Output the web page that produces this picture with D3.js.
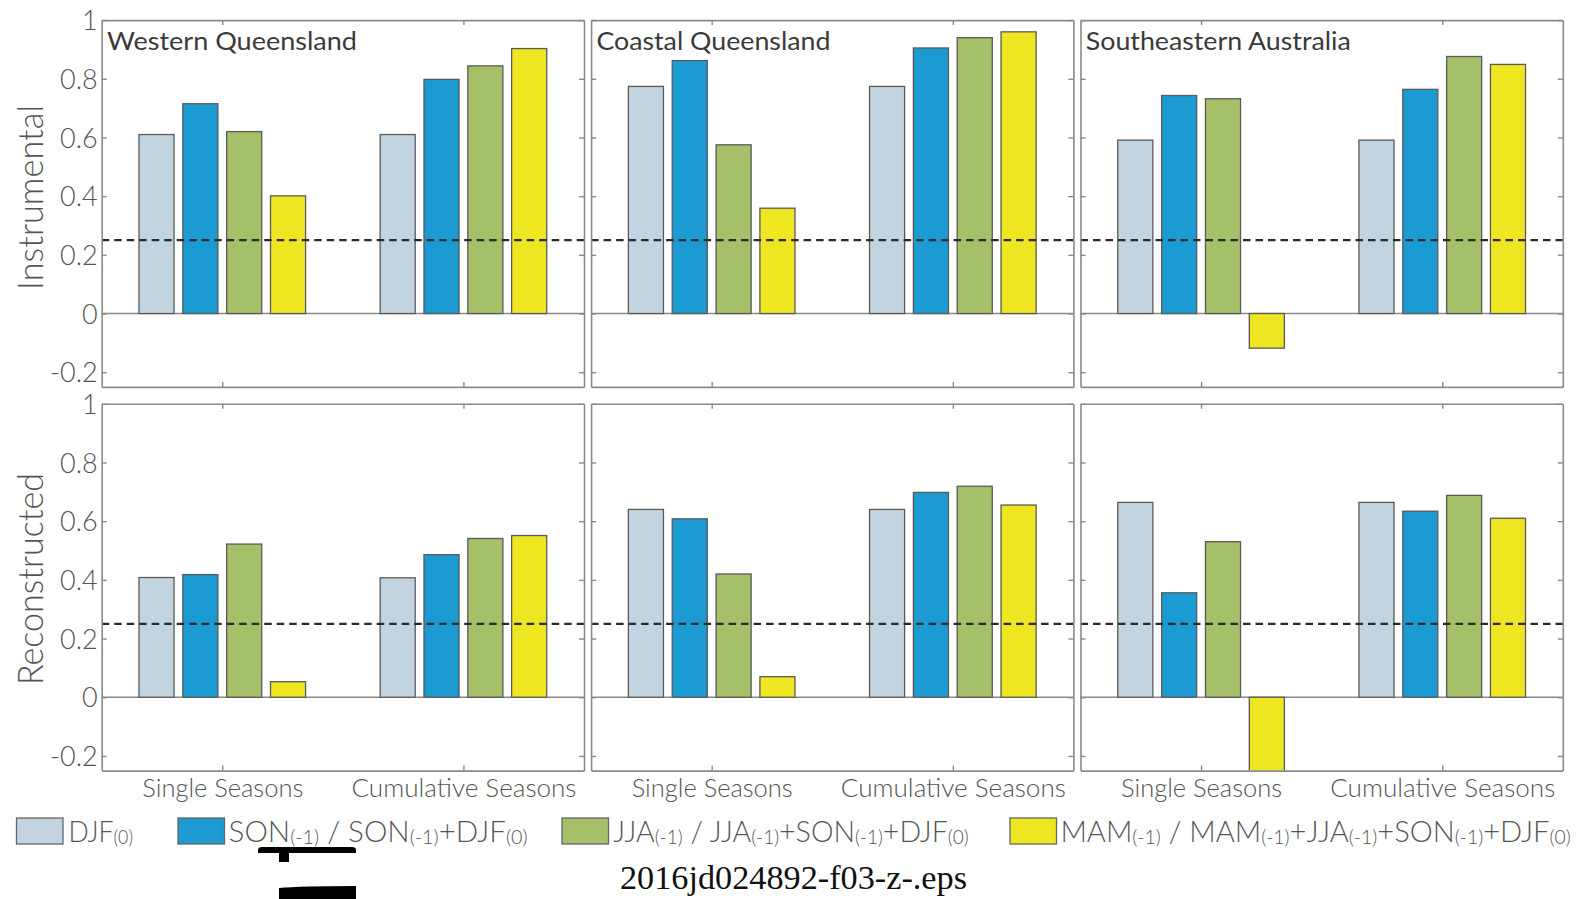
<!DOCTYPE html>
<html>
<head>
<meta charset="utf-8">
<script src="https://cdn.jsdelivr.net/npm/d3@7"></script>
<style>
  html, body { margin: 0; padding: 0; background: #fff; }
  svg { display: block; }
</style>
</head>
<body>
<svg id="chart" width="1579" height="899"></svg>
<script>
// ---------------- DATA ----------------
const regions = ["Western Queensland", "Coastal Queensland", "Southeastern Australia"];
const rowNames = ["Instrumental", "Reconstructed"];
const groups = ["Single Seasons", "Cumulative Seasons"];
const seriesKeys = ["DJF", "SON", "JJA", "MAM"];
const seriesColors = ["#c2d4df", "#1b9bd1", "#a6bf69", "#eee621"];
const yTicks = [-0.2, 0, 0.2, 0.4, 0.6, 0.8, 1];
const yTickLabels = ["-0.2", "0", "0.2", "0.4", "0.6", "0.8", "1"];
const sigLevel = 0.25;

// Instrumental row (DJF, SON, JJA, MAM)
const instWQ_single = [0.610, 0.715, 0.620, 0.401];
const instWQ_cumul  = [0.610, 0.798, 0.844, 0.903];
const instCQ_single = [0.774, 0.862, 0.575, 0.359];
const instCQ_cumul  = [0.774, 0.905, 0.940, 0.960];
const instSE_single = [0.591, 0.743, 0.732, -0.118];
const instSE_cumul  = [0.591, 0.764, 0.876, 0.849];
// Reconstructed row
const recWQ_single = [0.408, 0.418, 0.522, 0.053];
const recWQ_cumul  = [0.407, 0.486, 0.541, 0.551];
const recCQ_single = [0.640, 0.608, 0.420, 0.070];
const recCQ_cumul  = [0.640, 0.698, 0.719, 0.655];
const recSE_single = [0.664, 0.356, 0.530, -0.26];
const recSE_cumul  = [0.664, 0.634, 0.688, 0.610];

const legendParts = [
  [["DJF", 0], ["(0)", 1]],
  [["SON", 0], ["(-1)", 1], [" / SON", 0], ["(-1)", 1], ["+DJF", 0], ["(0)", 1]],
  [["JJA", 0], ["(-1)", 1], [" / JJA", 0], ["(-1)", 1], ["+SON", 0], ["(-1)", 1], ["+DJF", 0], ["(0)", 1]],
  [["MAM", 0], ["(-1)", 1], [" / MAM", 0], ["(-1)", 1], ["+JJA", 0], ["(-1)", 1], ["+SON", 0], ["(-1)", 1], ["+DJF", 0], ["(0)", 1]]
];
const fileName = "2016jd024892-f03-z-.eps";

const panelData = [
  [[instWQ_single, instWQ_cumul], [instCQ_single, instCQ_cumul], [instSE_single, instSE_cumul]],
  [[recWQ_single, recWQ_cumul], [recCQ_single, recCQ_cumul], [recSE_single, recSE_cumul]]
];

// ---------------- LAYOUT ----------------
const panelLeft = [101.7, 591.1, 1080.5];
const panelW = 482.3;
const rowTop = [20.1, 403.8];
const panelH = 366.8;
const titleWidths = [250, 234, 265];
const yLabelWidths = [185, 212];
const yLabelCenters = [197.5, 579];
const groupLabelWidths = [161, 225];
const axisColor = "#8a8a8a";
const textColor = "#555";
const sansFont = "Lato, 'Open Sans', 'DejaVu Sans', sans-serif";

const svg = d3.select("#chart");
svg.append("rect").attr("width", 1579).attr("height", 899).attr("fill", "#fff");

function fitText(sel, target) {
  sel.attr("textLength", target).attr("lengthAdjust", "spacingAndGlyphs");
}

const inner = d3.scaleBand().domain(seriesKeys).range([-0.3636, 0.3636])
  .paddingInner(0.2).paddingOuter(0.1);

const defs = svg.append("defs");

rowNames.forEach((rowName, r) => {
  const top = rowTop[r];
  const y = d3.scaleLinear().domain([-0.25, 1]).range([top + panelH, top]);

  regions.forEach((region, c) => {
    const left = panelLeft[c];
    const x = d3.scaleLinear().domain([0.5, 2.5]).range([left, left + panelW]);
    const g = svg.append("g");
    const clipId = `clip-${r}-${c}`;
    defs.append("clipPath").attr("id", clipId)
      .append("rect").attr("x", left).attr("y", top).attr("width", panelW).attr("height", panelH);

    // zero line
    g.append("line")
      .attr("x1", x(0.5)).attr("x2", x(2.5))
      .attr("y1", y(0)).attr("y2", y(0))
      .attr("stroke", axisColor).attr("stroke-width", 1.6);

    // bars
    const bars = [];
    panelData[r][c].forEach((vals, gi) => {
      vals.forEach((v, si) => bars.push({ g: gi + 1, key: seriesKeys[si], v, color: seriesColors[si] }));
    });
    g.append("g").attr("clip-path", `url(#${clipId})`)
      .selectAll("rect").data(bars).join("rect")
      .attr("x", d => x(d.g + inner(d.key)))
      .attr("width", d => x(d.g + inner(d.key) + inner.bandwidth()) - x(d.g + inner(d.key)))
      .attr("y", d => Math.min(y(d.v), y(0)))
      .attr("height", d => Math.abs(y(d.v) - y(0)))
      .attr("fill", d => d.color)
      .attr("stroke", "#5a5a5a").attr("stroke-width", 1.3);

    // significance dashed line
    g.append("line")
      .attr("x1", x(0.5)).attr("x2", x(2.5))
      .attr("y1", y(sigLevel)).attr("y2", y(sigLevel))
      .attr("stroke", "#2a2a2a").attr("stroke-width", 2.2)
      .attr("stroke-dasharray", "7.5,5");

    // axes (box)
    const axL = d3.axisLeft(y).tickValues(yTicks).tickSize(-5).tickSizeOuter(0).tickPadding(4)
      .tickFormat((d, i) => c === 0 ? yTickLabels[i] : "");
    const axR = d3.axisRight(y).tickValues(yTicks).tickSize(-5).tickSizeOuter(0).tickFormat("");
    const axT = d3.axisTop(x).tickValues([1, 2]).tickSize(-5).tickSizeOuter(0).tickFormat("");
    const axB = d3.axisBottom(x).tickValues([1, 2]).tickSize(-5).tickSizeOuter(0).tickPadding(8)
      .tickFormat((d, i) => r === 1 ? groups[i] : "");

    const gL = g.append("g").attr("transform", `translate(${left},0)`).call(axL);
    g.append("g").attr("transform", `translate(${left + panelW},0)`).call(axR);
    g.append("g").attr("transform", `translate(0,${top})`).call(axT);
    const gB = g.append("g").attr("transform", `translate(0,${top + panelH})`).call(axB);

    g.selectAll(".domain").attr("stroke", axisColor).attr("stroke-width", 1.6);
    g.selectAll(".tick line").attr("stroke", axisColor).attr("stroke-width", 1.4);
    gL.selectAll("text").attr("font-size", 27).attr("fill", textColor)
      .attr("font-family", sansFont).attr("font-weight", 300).attr("dy", "0.36em");
    gB.selectAll("text").attr("font-size", 26).attr("fill", textColor)
      .attr("font-family", sansFont).attr("font-weight", 300)
      .each(function (d, i) { if (r === 1) fitText(d3.select(this), groupLabelWidths[i]); });

    // panel title
    if (r === 0) {
      svg.append("text")
        .attr("x", left + 5.3).attr("y", 50)
        .attr("font-family", sansFont)
        .attr("font-size", 25).attr("fill", "#3a3a3a").attr("font-weight", 400)
        .text(region)
        .call(s => fitText(s, titleWidths[c]));
    }
  });

  // row label
  svg.append("text")
    .attr("transform", `translate(43,${yLabelCenters[r]}) rotate(-90)`)
    .attr("text-anchor", "middle")
    .attr("font-family", sansFont).attr("font-weight", 300)
    .attr("font-size", 35).attr("fill", textColor)
    .text(rowName)
    .call(s => fitText(s, yLabelWidths[r]));
});

// ---------------- LEGEND ----------------
const legBoxX = [16.5, 178, 562, 1010];
const legTextX = [68.5, 228.6, 613.3, 1060.4];
const legTextEnd = [133, 527.7, 968.7, 1571];
const leg = svg.append("g");
legendParts.forEach((parts, i) => {
  leg.append("rect")
    .attr("x", legBoxX[i]).attr("y", 818).attr("width", 46.5).attr("height", 26)
    .attr("fill", seriesColors[i]).attr("stroke", "#666").attr("stroke-width", 1.3);
  const tg = leg.append("g");
  const t = tg.append("text").attr("x", 0).attr("y", 0).attr("fill", textColor)
    .attr("font-family", sansFont).attr("font-weight", 300).attr("font-size", 30);
  parts.forEach(([s, sub]) => {
    t.append("tspan").attr("font-size", sub ? 20 : 30)
      .attr("baseline-shift", sub ? "-2" : null)
      .text(s);
  });
  const w = t.node().getComputedTextLength();
  const sx = (legTextEnd[i] - legTextX[i]) / w;
  tg.attr("transform", `translate(${legTextX[i]},842) scale(${sx},1)`);
});

// file name caption
svg.append("text")
  .attr("x", 793.5).attr("y", 889)
  .attr("text-anchor", "middle")
  .attr("font-family", "'Liberation Serif', 'DejaVu Serif', serif")
  .attr("font-size", 33).attr("fill", "#111")
  .text(fileName)
  .call(s => fitText(s, 347));

// cropped artefacts below legend
svg.append("path")
  .attr("d", "M258,850 Q258,847 262,847 L352,847 Q356,847 356,850 L356,853 L289,853 L289,862 L279,862 L279,853 L258,853 Z")
  .attr("fill", "#000");
svg.append("path")
  .attr("d", "M279,888 Q300,886 356,886 L356,899 L279,899 Z")
  .attr("fill", "#000");
</script>
</body>
</html>
